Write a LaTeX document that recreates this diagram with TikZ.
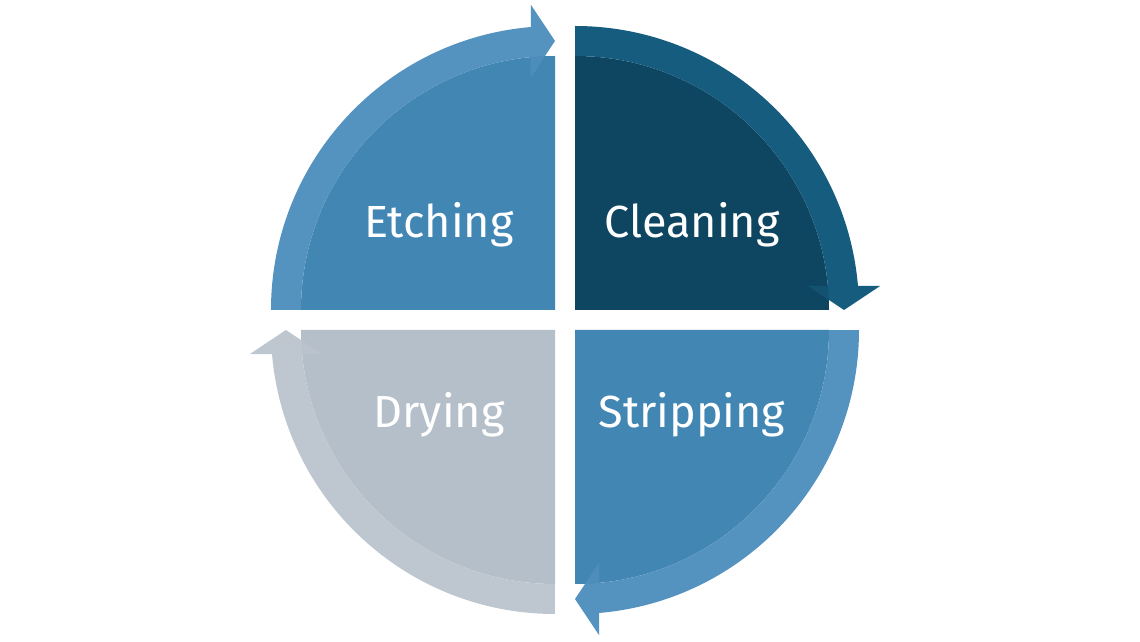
\documentclass[tikz,border=0pt]{standalone}
\usepackage{fontspec}
\setmainfont{Fira Sans}
\definecolor{bluepie}{RGB}{66,134,180}
\definecolor{blueband}{RGB}{84,146,192}
\definecolor{navypie}{RGB}{14,69,96}
\definecolor{navyband}{RGB}{22,92,126}
\definecolor{greypie}{RGB}{181,191,201}
\definecolor{greyband}{RGB}{190,199,208}
\newcommand\drawquad[2]{%
  \fill[#1] (0,0) -- (-254,0) arc[start angle=180,end angle=90,radius=254] -- cycle;
  \fill[#2] (-284,0) arc[start angle=180,end angle=94.85,radius=284]
     -- (-24,305) -- (0,269) -- (-24,233) -- (-24,252.9)
     arc[start angle=95.42,end angle=180,radius=254] -- cycle;
  \begin{scope}
    \clip (0,0) -- (-254,0) arc[start angle=180,end angle=90,radius=254] -- cycle;
    \fill[#2!55!#1] (-24,305) -- (0,269) -- (-24,233) -- cycle;
  \end{scope}}
\tikzset{lbl/.style={text=white,anchor=base,inner sep=0pt,font=\fontsize{45}{52}\selectfont}}
\begin{document}
\begin{tikzpicture}[x=1pt,y=1pt]
  \fill[white] (-565,-322) rectangle (575,320);
  \useasboundingbox (-565,-322) rectangle (575,320);
  \begin{scope}[shift={(-10,10)}]
    \drawquad{bluepie}{blueband}
  \end{scope}
  \begin{scope}[shift={(10,10)},rotate=-90]
    \drawquad{navypie}{navyband}
  \end{scope}
  \begin{scope}[shift={(10,-10)},rotate=180]
    \drawquad{bluepie}{blueband}
  \end{scope}
  \begin{scope}[shift={(-10,-10)},rotate=90]
    \drawquad{greypie}{greyband}
  \end{scope}
  \node[lbl] (etching) at (-126,82) {Etching};
  \node[lbl] (cleaning) at (127,82) {Cleaning};
  \node[lbl] (drying) at (-126,-107) {Drying};
  \node[lbl] (stripping) at (127,-107) {Stripping};
\end{tikzpicture}
\end{document}
